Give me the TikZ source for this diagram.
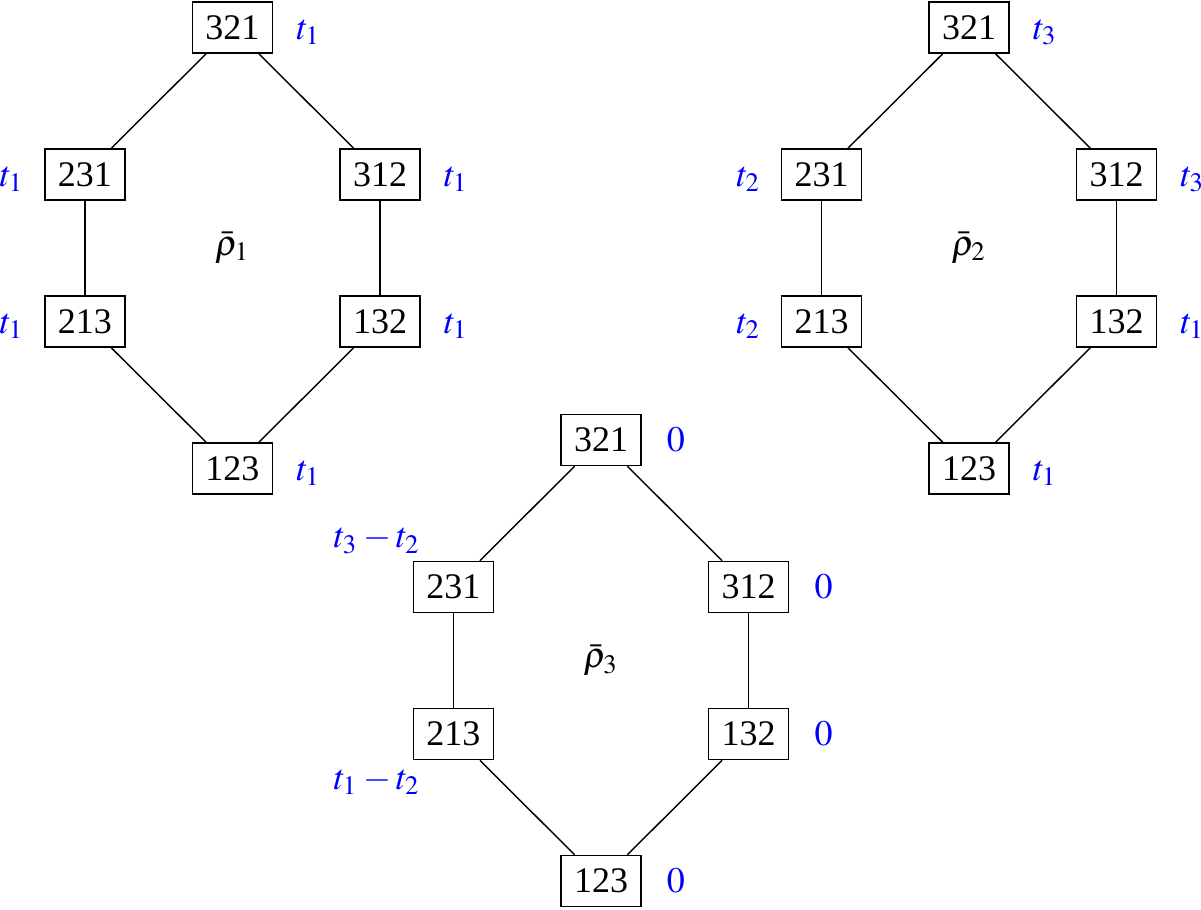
\documentclass[tikz,border=0pt]{standalone}
\usepackage{mathptmx}
\usepackage[no-math]{fontspec}
\setmainfont{Liberation Serif}
\usetikzlibrary{positioning,calc}

\begin{document}
\begin{tikzpicture}[node distance=1.435cm and 1.44cm,on grid]
  \tikzstyle{perm}=[draw,rectangle,minimum width=0.78cm,minimum height=0.5cm,inner sep=0pt]
  \tikzstyle{weight}=[text=blue,inner sep=0pt,on grid=false]
  \useasboundingbox (-2.269,-8.613) rectangle (9.453,0.268);

  % rho_1
  \node[perm] (a_321) at (0,0)          {321};
  \node[perm] (a_231) [below left=of a_321]  {231};
  \node[perm] (a_312) [below right=of a_321] {312};
  \node[perm] (a_213) [below=of a_231]       {213};
  \node[perm] (a_132) [below=of a_312]       {132};
  \node[perm] (a_123) [below right=of a_213] {123};
  \node (a_rho) at ($(a_321)!0.5!(a_123)$) {$\bar\rho_1$};

  \node[weight] (w_a321) [right=2.2mm of a_321.base east,anchor=base west] {$t_1$};
  \node[weight] (w_a231) [left=1.9mm of a_231.base west,anchor=base east]  {$t_1$};
  \node[weight] (w_a312) [right=2.2mm of a_312.base east,anchor=base west] {$t_1$};
  \node[weight] (w_a213) [left=1.9mm of a_213.base west,anchor=base east]  {$t_1$};
  \node[weight] (w_a132) [right=2.2mm of a_132.base east,anchor=base west] {$t_1$};
  \node[weight] (w_a123) [right=2.2mm of a_123.base east,anchor=base west] {$t_1$};

  % rho_2
  \node[perm] (b_321) at (7.19,0)       {321};
  \node[perm] (b_231) [below left=of b_321]  {231};
  \node[perm] (b_312) [below right=of b_321] {312};
  \node[perm] (b_213) [below=of b_231]       {213};
  \node[perm] (b_132) [below=of b_312]       {132};
  \node[perm] (b_123) [below right=of b_213] {123};
  \node (b_rho) at ($(b_321)!0.5!(b_123)$) {$\bar\rho_2$};

  \node[weight] (w_b321) [right=2.2mm of b_321.base east,anchor=base west] {$t_3$};
  \node[weight] (w_b231) [left=1.9mm of b_231.base west,anchor=base east]  {$t_2$};
  \node[weight] (w_b312) [right=2.2mm of b_312.base east,anchor=base west] {$t_3$};
  \node[weight] (w_b213) [left=1.9mm of b_213.base west,anchor=base east]  {$t_2$};
  \node[weight] (w_b132) [right=2.2mm of b_132.base east,anchor=base west] {$t_1$};
  \node[weight] (w_b123) [right=2.2mm of b_123.base east,anchor=base west] {$t_1$};

  % rho_3
  \node[perm] (c_321) at (3.597,-4.026) {321};
  \node[perm] (c_231) [below left=of c_321]  {231};
  \node[perm] (c_312) [below right=of c_321] {312};
  \node[perm] (c_213) [below=of c_231]       {213};
  \node[perm] (c_132) [below=of c_312]       {132};
  \node[perm] (c_123) [below right=of c_213] {123};
  \node (c_rho) at ($(c_321)!0.5!(c_123)$) {$\bar\rho_3$};

  \node[weight] (w_c321) [right=2.4mm of c_321.base east,anchor=base west] {$0$};
  \node[weight] (w_c231) [above left=0.6mm and -0.8mm of c_231.north west,anchor=south east] {$t_3 - t_2$};
  \node[weight] (w_c312) [right=2.4mm of c_312.base east,anchor=base west] {$0$};
  \node[weight] (w_c213) [below left=0.7mm and -0.8mm of c_213.south west,anchor=north east] {$t_1 - t_2$};
  \node[weight] (w_c132) [right=2.4mm of c_132.base east,anchor=base west] {$0$};
  \node[weight] (w_c123) [right=2.4mm of c_123.base east,anchor=base west] {$0$};

  \path
  (a_321) edge (a_231) edge (a_312)
  (a_231) edge (a_213)
  (a_312) edge (a_132)
  (a_123) edge (a_213) edge (a_132)
  (b_321) edge (b_231) edge (b_312)
  (b_231) edge (b_213)
  (b_312) edge (b_132)
  (b_123) edge (b_213) edge (b_132)
  (c_321) edge (c_231) edge (c_312)
  (c_231) edge (c_213)
  (c_312) edge (c_132)
  (c_123) edge (c_213) edge (c_132);
\end{tikzpicture}
\end{document}
